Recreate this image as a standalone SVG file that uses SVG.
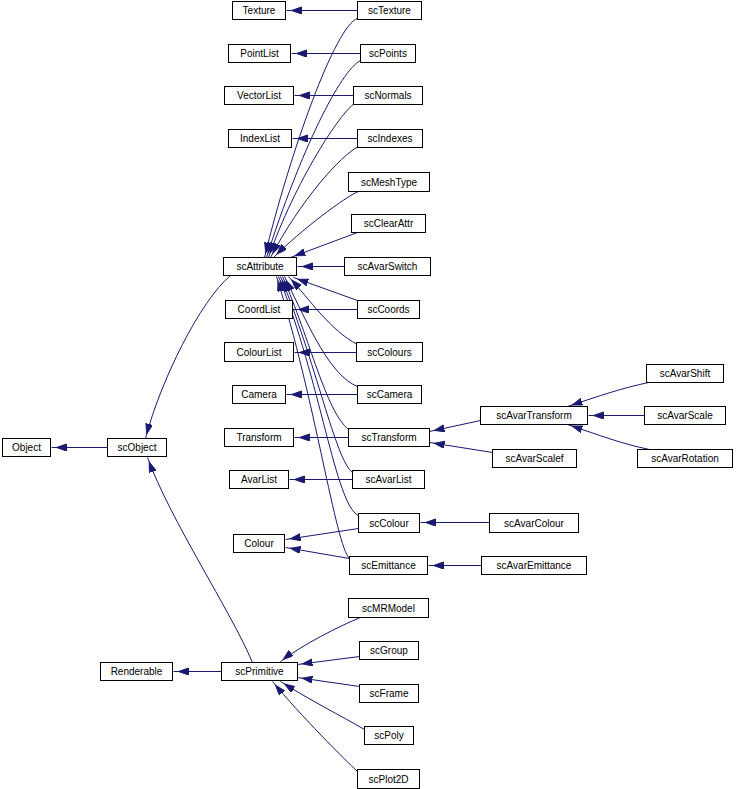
<svg xmlns="http://www.w3.org/2000/svg" width="736" height="789" viewBox="0 0 736 789">
<style>
.n rect{fill:#fff;stroke:#000;stroke-width:1}
.n text{font-family:"Liberation Sans",Arial,sans-serif;font-size:10px;text-anchor:middle;fill:#000}
.e path{fill:none;stroke:#191970;stroke-width:1;marker-end:url(#a)}
</style>
<defs>
<marker id="a" markerWidth="16" markerHeight="8" refX="15" refY="3.5" orient="auto" markerUnits="userSpaceOnUse"><path d="M0,0 L10,3.5 L0,7z" fill="#191970" stroke="#191970" stroke-width="1"/></marker>
</defs>
<rect width="736" height="789" fill="#fff"/>
<g transform="translate(0.5 0.5)">
<g class="e" id="edges">
<path d="M357,10 L286,10"/>
<path d="M360,53 L291,53"/>
<path d="M353,95 L294,95"/>
<path d="M357,138 L292,138"/>
<path d="M357,309 L293,309"/>
<path d="M356,352 L294,352"/>
<path d="M357,394 L286,394"/>
<path d="M348,437 L294,437"/>
<path d="M352,479 L289,479"/>
<path d="M357,18 C335,25 290,150 264,257"/>
<path d="M360,60 C340,70 300,150 266,257"/>
<path d="M354,103 C340,112 295,180 268,257"/>
<path d="M358,146 C340,155 300,200 270,257"/>
<path d="M358,191 C345,196 300,230 273,257"/>
<path d="M357,232 L290,257"/>
<path d="M344,266 L297,266"/>
<path d="M357,300 L293,277"/>
<path d="M357,344 C330,330 310,300 288,276"/>
<path d="M357,386 C330,375 310,330 284,276"/>
<path d="M348,429 C325,410 310,340 282,276"/>
<path d="M352,472 C335,460 315,360 280,276"/>
<path d="M358,515 C335,505 320,380 278,276"/>
<path d="M349,558 C335,545 315,400 276,276"/>
<path d="M230,275 C200,300 160,380 145,438"/>
<path d="M252,662 C230,610 170,520 147,457"/>
<path d="M107,447 L51,447"/>
<path d="M221,671 L173,671"/>
<path d="M360,617 C340,625 300,645 279,662"/>
<path d="M359,656 L297,664"/>
<path d="M359,686 L297,677"/>
<path d="M364,729 C340,715 310,700 280,681"/>
<path d="M357,771 C345,760 300,715 272,681"/>
<path d="M648,382 C620,388 600,395 567,406"/>
<path d="M644,415 L588,415"/>
<path d="M649,449 C620,443 600,435 567,424"/>
<path d="M480,420 L429,431"/>
<path d="M492,452 L429,442"/>
<path d="M489,522 L420,522"/>
<path d="M481,565 L428,565"/>
<path d="M358,528 L285,539"/>
<path d="M349,558 L285,547"/>
</g>
<g class="n" id="Texture"><rect x="232" y="1" width="53" height="18"/><text x="258.5" y="13.5">Texture</text></g>
<g class="n" id="scTexture"><rect x="357" y="1" width="64" height="18"/><text x="389" y="13.5">scTexture</text></g>
<g class="n" id="PointList"><rect x="228" y="44" width="62" height="18"/><text x="259" y="56.5">PointList</text></g>
<g class="n" id="scPoints"><rect x="360" y="44" width="55" height="18"/><text x="387.5" y="56.5">scPoints</text></g>
<g class="n" id="VectorList"><rect x="224" y="86" width="69" height="18"/><text x="258.5" y="98.5">VectorList</text></g>
<g class="n" id="scNormals"><rect x="353" y="86" width="69" height="18"/><text x="387.5" y="98.5">scNormals</text></g>
<g class="n" id="IndexList"><rect x="228" y="129" width="63" height="18"/><text x="259.5" y="141.5">IndexList</text></g>
<g class="n" id="scIndexes"><rect x="357" y="129" width="65" height="18"/><text x="389.5" y="141.5">scIndexes</text></g>
<g class="n" id="scMeshType"><rect x="348" y="172" width="81" height="19"/><text x="388.5" y="185">scMeshType</text></g>
<g class="n" id="scClearAttr"><rect x="351" y="214" width="74" height="18"/><text x="388" y="226.5">scClearAttr</text></g>
<g class="n" id="scAttribute"><rect x="223" y="257" width="73" height="18"/><text x="259.5" y="269.5">scAttribute</text></g>
<g class="n" id="scAvarSwitch"><rect x="344" y="257" width="86" height="18"/><text x="387" y="269.5">scAvarSwitch</text></g>
<g class="n" id="CoordList"><rect x="225" y="300" width="67" height="18"/><text x="258.5" y="312.5">CoordList</text></g>
<g class="n" id="scCoords"><rect x="357" y="300" width="62" height="18"/><text x="388" y="312.5">scCoords</text></g>
<g class="n" id="ColourList"><rect x="224" y="342" width="69" height="19"/><text x="258.5" y="355">ColourList</text></g>
<g class="n" id="scColours"><rect x="356" y="342" width="66" height="19"/><text x="389" y="355">scColours</text></g>
<g class="n" id="Camera"><rect x="232" y="385" width="53" height="18"/><text x="258.5" y="397.5">Camera</text></g>
<g class="n" id="scCamera"><rect x="357" y="385" width="64" height="18"/><text x="389" y="397.5">scCamera</text></g>
<g class="n" id="Transform"><rect x="224" y="428" width="69" height="18"/><text x="258.5" y="440.5">Transform</text></g>
<g class="n" id="scTransform"><rect x="348" y="428" width="81" height="18"/><text x="388.5" y="440.5">scTransform</text></g>
<g class="n" id="AvarList"><rect x="229" y="470" width="59" height="18"/><text x="258.5" y="482.5">AvarList</text></g>
<g class="n" id="scAvarList"><rect x="352" y="470" width="72" height="18"/><text x="388" y="482.5">scAvarList</text></g>
<g class="n" id="scColour"><rect x="358" y="513" width="61" height="19"/><text x="388.5" y="526">scColour</text></g>
<g class="n" id="scAvarColour"><rect x="489" y="513" width="89" height="19"/><text x="533.5" y="526">scAvarColour</text></g>
<g class="n" id="Colour"><rect x="233" y="534" width="51" height="18"/><text x="258.5" y="546.5">Colour</text></g>
<g class="n" id="scEmittance"><rect x="349" y="556" width="78" height="18"/><text x="388" y="568.5">scEmittance</text></g>
<g class="n" id="scAvarEmittance"><rect x="481" y="556" width="105" height="18"/><text x="533.5" y="568.5">scAvarEmittance</text></g>
<g class="n" id="scAvarShift"><rect x="646" y="364" width="77" height="18"/><text x="684.5" y="376.5">scAvarShift</text></g>
<g class="n" id="scAvarTransform"><rect x="480" y="406" width="107" height="18"/><text x="533.5" y="418.5">scAvarTransform</text></g>
<g class="n" id="scAvarScale"><rect x="644" y="406" width="81" height="18"/><text x="684.5" y="418.5">scAvarScale</text></g>
<g class="n" id="scAvarScalef"><rect x="492" y="449" width="84" height="18"/><text x="534" y="461.5">scAvarScalef</text></g>
<g class="n" id="scAvarRotation"><rect x="637" y="449" width="95" height="18"/><text x="684.5" y="461.5">scAvarRotation</text></g>
<g class="n" id="Object"><rect x="2" y="438" width="48" height="18"/><text x="26" y="450.5">Object</text></g>
<g class="n" id="scObject"><rect x="107" y="438" width="59" height="18"/><text x="136.5" y="450.5">scObject</text></g>
<g class="n" id="scMRModel"><rect x="348" y="598" width="80" height="19"/><text x="388" y="611">scMRModel</text></g>
<g class="n" id="scGroup"><rect x="359" y="641" width="59" height="18"/><text x="388.5" y="653.5">scGroup</text></g>
<g class="n" id="Renderable"><rect x="100" y="662" width="72" height="18"/><text x="136" y="674.5">Renderable</text></g>
<g class="n" id="scPrimitive"><rect x="221" y="662" width="76" height="18"/><text x="259" y="674.5">scPrimitive</text></g>
<g class="n" id="scFrame"><rect x="359" y="684" width="59" height="18"/><text x="388.5" y="696.5">scFrame</text></g>
<g class="n" id="scPoly"><rect x="364" y="726" width="49" height="18"/><text x="388.5" y="738.5">scPoly</text></g>
<g class="n" id="scPlot2D"><rect x="357" y="769" width="62" height="19"/><text x="388" y="782">scPlot2D</text></g>
</g>
</svg>
